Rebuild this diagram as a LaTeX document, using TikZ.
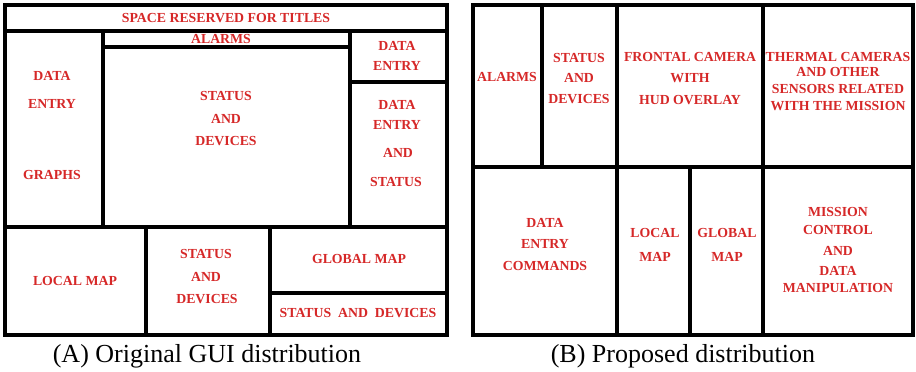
\documentclass[tikz,border=0pt]{standalone}
\usepackage{fontspec}
\setmainfont{Liberation Serif}
\definecolor{labelred}{RGB}{214,40,40}
\begin{document}
\begin{tikzpicture}[x=1pt,y=-1pt,
  frame/.style={draw=black,line width=3.2pt},
  lbl/.style={text=labelred,font=\bfseries\fontsize{13.8}{15}\selectfont,inner sep=0pt,anchor=center},
  captiontext/.style={font=\fontsize{26}{30}\selectfont,inner sep=0pt,anchor=base}]
\useasboundingbox[fill=white] (0,0) rectangle (916,372);

% ---------- (A) original layout ----------
\draw[frame] (5,5) rectangle (447,335);
\draw[frame] (5,31) -- (447,31);
\draw[frame] (103,31) -- (103,227);
\draw[frame] (350,31) -- (350,227);
\draw[frame,line width=4pt] (104,46.5) -- (350,46.5);
\draw[frame] (350,82) -- (447,82);
\draw[frame] (5,227) -- (447,227);
\draw[frame] (146,227) -- (146,335);
\draw[frame] (270,227) -- (270,335);
\draw[frame] (270,293) -- (447,293);

\node[lbl] (aTitle) at (226,18) {SPACE RESERVED FOR TITLES};
\node[lbl] (aAlarms) at (221,39) {ALARMS};
\node[lbl] (aL1) at (52,76) {DATA};
\node[lbl] (aL2) at (52,104) {ENTRY};
\node[lbl] (aL3) at (52,175) {GRAPHS};
\node[lbl] (aC1) at (226,96) {STATUS};
\node[lbl] (aC2) at (226,119) {AND};
\node[lbl] (aC3) at (226,141) {DEVICES};
\node[lbl] (aR1) at (397,46) {DATA};
\node[lbl] (aR2) at (397,66) {ENTRY};
\node[lbl] (aS1) at (397,105) {DATA};
\node[lbl] (aS2) at (397,125) {ENTRY};
\node[lbl] (aS3) at (398,153) {AND};
\node[lbl] (aS4) at (396,182) {STATUS};
\node[lbl] (aLocal) at (75,281) {LOCAL MAP};
\node[lbl] (aD1) at (206,254) {STATUS};
\node[lbl] (aD2) at (206,277) {AND};
\node[lbl] (aD3) at (207,299) {DEVICES};
\node[lbl] (aGlobal) at (359,259) {GLOBAL MAP};
\node[lbl] (aSD) at (358,313) {STATUS\ \ AND\ \ DEVICES};
\node[captiontext] (capA) at (207,362) {(A) Original GUI distribution};

% ---------- (B) proposed layout ----------
\draw[frame] (473,5) rectangle (913,335);
\draw[frame] (473,167) -- (913,167);
\draw[frame] (542,5) -- (542,167);
\draw[frame] (617,5) -- (617,335);
\draw[frame] (763,5) -- (763,335);
\draw[frame] (690,167) -- (690,335);

\node[lbl] (bAlarms) at (507,77) {ALARMS};
\node[lbl] (bS1) at (579,58) {STATUS};
\node[lbl] (bS2) at (579,78) {AND};
\node[lbl] (bS3) at (579,99) {DEVICES};
\node[lbl] (bF1) at (690,57) {FRONTAL CAMERA};
\node[lbl] (bF2) at (690,78) {WITH};
\node[lbl] (bF3) at (690,100) {HUD OVERLAY};
\node[lbl] (bT1) at (838,57) {THERMAL CAMERAS};
\node[lbl] (bT2) at (838,72) {AND OTHER};
\node[lbl] (bT3) at (838,89) {SENSORS RELATED};
\node[lbl] (bT4) at (838,106) {WITH THE MISSION};
\node[lbl] (bE1) at (545,223) {DATA};
\node[lbl] (bE2) at (545,244) {ENTRY};
\node[lbl] (bE3) at (545,266) {COMMANDS};
\node[lbl] (bL1) at (655,233) {LOCAL};
\node[lbl] (bL2) at (655,257) {MAP};
\node[lbl] (bG1) at (727,233) {GLOBAL};
\node[lbl] (bG2) at (727,257) {MAP};
\node[lbl] (bM1) at (838,212) {MISSION};
\node[lbl] (bM2) at (838,230) {CONTROL};
\node[lbl] (bM3) at (838,251) {AND};
\node[lbl] (bM4) at (838,271) {DATA};
\node[lbl] (bM5) at (838,288) {MANIPULATION};
\node[captiontext] (capB) at (683,362) {(B) Proposed distribution};
\end{tikzpicture}
\end{document}
